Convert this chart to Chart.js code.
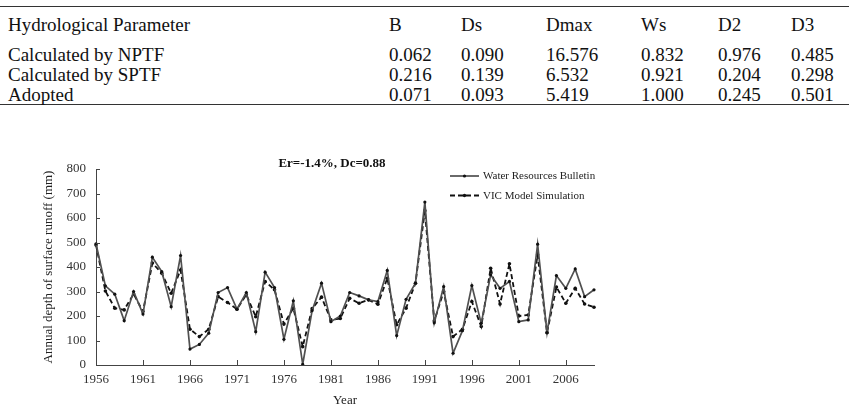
<!DOCTYPE html>
<html>
<head>
<meta charset="utf-8">
<script src="https://cdn.jsdelivr.net/npm/chart.js@4/dist/chart.umd.min.js"></script>
<style>
  html, body { margin: 0; padding: 0; background: #fff; }
  body { width: 849px; height: 412px; position: relative; overflow: hidden;
         font-family: "Liberation Serif", "Times New Roman", serif; color: #111; }
  .rule { position: absolute; left: 0; width: 849px; height: 1px; background: #333; }
  .cell { position: absolute; font-size: 19px; line-height: 20px; white-space: nowrap; }
  #chartBox { position: absolute; left: 0; top: 140px; width: 849px; height: 272px; }
</style>
</head>
<body>
<div class="rule" style="top:6px"></div>
<div class="rule" style="top:104px"></div>
<div id="paramTable"></div>
<div id="chartBox"><canvas id="runoffChart" width="849" height="272"></canvas></div>
<script>
// Table data --------------------------------------------------------------

const headerLabel = 'Hydrological Parameter';
const paramNames = ['B', 'Ds', 'Dmax', 'Ws', 'D2', 'D3'];
const rowLabels = ['Calculated by NPTF', 'Calculated by SPTF', 'Adopted'];
const nptfValues = ['0.062', '0.090', '16.576', '0.832', '0.976', '0.485'];
const sptfValues = ['0.216', '0.139', '6.532', '0.921', '0.204', '0.298'];
const adoptedValues = ['0.071', '0.093', '5.419', '1.000', '0.245', '0.501'];

// Chart data --------------------------------------------------------------

const years = [
  1956, 1957, 1958, 1959, 1960, 1961, 1962, 1963, 1964, 1965,
  1966, 1967, 1968, 1969, 1970, 1971, 1972, 1973, 1974, 1975,
  1976, 1977, 1978, 1979, 1980, 1981, 1982, 1983, 1984, 1985,
  1986, 1987, 1988, 1989, 1990, 1991, 1992, 1993, 1994, 1995,
  1996, 1997, 1998, 1999, 2000, 2001, 2002, 2003, 2004, 2005,
  2006, 2007, 2008, 2009
];

// Water Resources Bulletin (solid)
const bulletin = [
  495, 323, 289, 181, 300, 208, 440, 381, 238, 447,
  65, 84, 130, 296, 316, 228, 296, 136, 379, 316,
  105, 262, 3, 222, 334, 177, 200, 296, 282, 266,
  259, 386, 120, 268, 334, 665, 172, 320, 48, 140,
  324, 170, 368, 313, 341, 177, 184, 493, 132, 365,
  313, 392, 279, 307
];

// VIC Model Simulation (dashed)
const vicSim = [
  490, 302, 232, 225, 290, 218, 416, 375, 293, 388,
  146, 116, 146, 279, 255, 228, 287, 197, 341, 307,
  167, 232, 75, 230, 277, 184, 190, 272, 252, 266,
  248, 354, 164, 232, 334, 630, 180, 300, 116, 146,
  259, 157, 395, 249, 413, 200, 204, 450, 132, 318,
  252, 313, 249, 236
];

const chartTitle = 'Er=-1.4%, Dc=0.88';
const yTitle = 'Annual depth of surface runoff (mm)';
const xTitle = 'Year';

// Table -------------------------------------------------------------------

const colX = [8, 389, 461, 546, 641, 718, 791];
const rowY = [15, 45, 65, 85];

function addCell(text, x, y) {
  const d = document.createElement('div');
  d.className = 'cell';
  d.style.left = x + 'px';
  d.style.top = y + 'px';
  d.textContent = text;
  document.getElementById('paramTable').appendChild(d);
}

addCell(headerLabel, colX[0], rowY[0]);
paramNames.forEach((p, i) => addCell(p, colX[i + 1], rowY[0]));
[nptfValues, sptfValues, adoptedValues].forEach((vals, r) => {
  addCell(rowLabels[r], colX[0], rowY[r + 1]);
  vals.forEach((v, i) => addCell(v, colX[i + 1], rowY[r + 1]));
});

// Chart -------------------------------------------------------------------

const serif = '"Liberation Serif", "Times New Roman", serif';

// little tick marks pointing into the plot
const innerTicks = {
  id: 'innerTicks',
  afterDraw(chart) {
    const { ctx, chartArea } = chart;
    const x = chart.scales.x, y = chart.scales.y;
    ctx.save();
    ctx.strokeStyle = '#444';
    ctx.lineWidth = 1;
    ctx.beginPath();
    y.ticks.forEach((t, i) => {
      const py = Math.round(y.getPixelForTick(i)) + 0.5;
      ctx.moveTo(chartArea.left, py);
      ctx.lineTo(chartArea.left + 4, py);
    });
    x.ticks.forEach((t, i) => {
      if (i % 5 !== 0) return;
      const px = Math.round(x.getPixelForTick(i)) + 0.5;
      ctx.moveTo(px, chartArea.bottom);
      ctx.lineTo(px, chartArea.bottom - 5);
    });
    ctx.stroke();
    ctx.restore();
  }
};

// bold title and the legend box in the upper right
const titleLegend = {
  id: 'titleLegend',
  afterDraw(chart) {
    const { ctx, chartArea } = chart;
    ctx.save();
    ctx.fillStyle = '#111';
    ctx.font = 'bold 13px ' + serif;
    ctx.textAlign = 'center';
    ctx.textBaseline = 'middle';
    ctx.fillText(chartTitle, chartArea.left + 236, chartArea.top - 5);

    ctx.font = '11px ' + serif;
    ctx.textAlign = 'left';
    chart.data.datasets.forEach((ds, i) => {
      const ly = chartArea.top + 7 + i * 19.5;
      const x0 = chartArea.left + 354, x1 = chartArea.left + 383;
      ctx.strokeStyle = ds.borderColor;
      ctx.lineWidth = ds.borderWidth;
      ctx.setLineDash(ds.borderDash || []);
      ctx.beginPath();
      ctx.moveTo(x0, ly);
      ctx.lineTo(x1, ly);
      ctx.stroke();
      ctx.setLineDash([]);
      ctx.fillStyle = ds.pointBackgroundColor;
      ctx.beginPath();
      ctx.arc((x0 + x1) / 2, ly, ds.pointRadius, 0, Math.PI * 2);
      ctx.fill();
      ctx.fillStyle = '#222';
      ctx.fillText(ds.label, x1 + 4, ly + 0.5);
    });
    ctx.restore();
  }
};

const config = {
  type: 'line',
  data: {
    labels: years,
    datasets: [
      {
        label: 'Water Resources Bulletin',
        data: bulletin,
        borderColor: '#505050',
        borderWidth: 1.7,
        pointRadius: 1.6,
        pointBackgroundColor: '#111',
        pointBorderWidth: 0,
        tension: 0,
        fill: false
      },
      {
        label: 'VIC Model Simulation',
        data: vicSim,
        borderColor: '#111',
        borderWidth: 1.8,
        borderDash: [5, 3],
        pointRadius: 1.8,
        pointBackgroundColor: '#111',
        pointBorderWidth: 0,
        tension: 0,
        fill: false
      }
    ]
  },
  options: {
    responsive: false,
    animation: false,
    layout: { padding: { left: 0, right: 255, top: 29, bottom: 0 } },
    plugins: {
      legend: { display: false },
      tooltip: { enabled: false }
    },
    scales: {
      x: {
        type: 'category',
        offset: false,
        grid: { display: false, drawTicks: false },
        border: { display: true, color: '#444', width: 1 },
        ticks: {
          autoSkip: false,
          maxRotation: 0,
          padding: 7,
          color: '#333',
          font: { family: serif, size: 13 },
          callback: (v, i) => (i % 5 === 0 ? years[i] : '')
        },
        title: {
          display: true,
          text: xTitle,
          color: '#222',
          font: { family: serif, size: 13 },
          padding: { top: 0, bottom: 4 }
        },
        afterFit: s => { s.height = 47; }
      },
      y: {
        min: 0,
        max: 800,
        grid: { display: false, drawTicks: false },
        border: { display: true, color: '#444', width: 1 },
        ticks: {
          stepSize: 100,
          padding: 10,
          color: '#333',
          font: { family: serif, size: 13 }
        },
        title: {
          display: true,
          text: yTitle,
          color: '#222',
          font: { family: serif, size: 13 },
          padding: { top: 41, bottom: 0 }
        },
        afterFit: s => { s.width = 96; }
      }
    }
  },
  plugins: [innerTicks, titleLegend]
};

const runoffChart = new Chart(document.getElementById('runoffChart'), config);
</script>
</body>
</html>
